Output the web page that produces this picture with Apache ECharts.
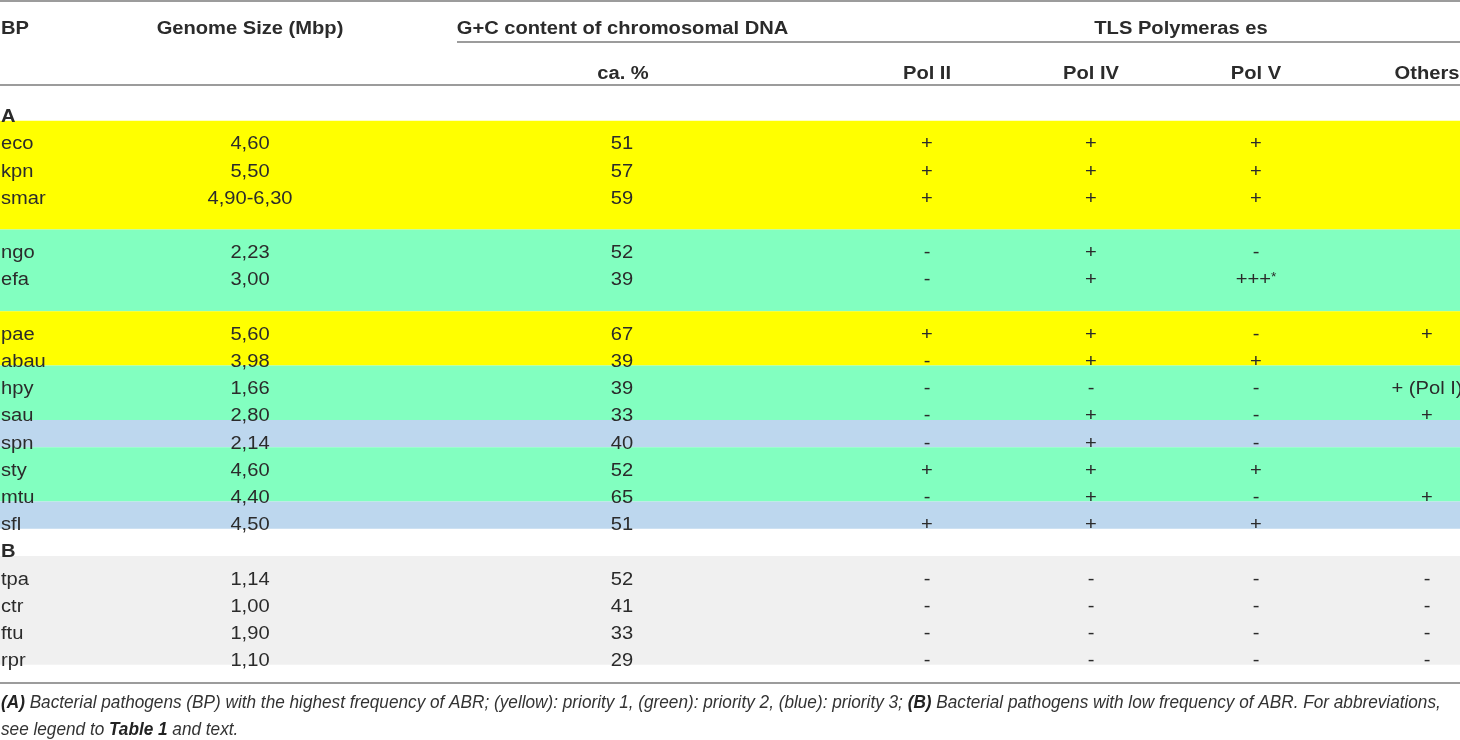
<!DOCTYPE html>
<html>
<head>
<meta charset="utf-8">
<title>TLS polymerases in bacterial pathogens</title>
<script src="https://cdn.jsdelivr.net/npm/echarts@6/dist/echarts.min.js"></script>
<style>
  html, body { margin: 0; padding: 0; background: #fff; }
  #main { width: 1460px; height: 740px; }
</style>
</head>
<body>
<div id="main"></div>
<script>
// ---------- data ----------
// (A) highest ABR frequency, '' = empty spacer row
const bpA      = ['eco', 'kpn', 'smar', '', 'ngo', 'efa', '', 'pae', 'abau', 'hpy', 'sau', 'spn', 'sty', 'mtu', 'sfl']
const genomeA  = ['4,60', '5,50', '4,90-6,30', '', '2,23', '3,00', '', '5,60', '3,98', '1,66', '2,80', '2,14', '4,60', '4,40', '4,50']
const gcA      = ['51', '57', '59', '', '52', '39', '', '67', '39', '39', '33', '40', '52', '65', '51']
const pol2A    = ['+', '+', '+', '', '-', '-', '', '+', '-', '-', '-', '-', '+', '-', '+']
const pol4A    = ['+', '+', '+', '', '+', '+', '', '+', '+', '-', '+', '+', '+', '+', '+']
const pol5A    = ['+', '+', '+', '', '-', '+++*', '', '-', '+', '-', '-', '-', '+', '-', '+']
const othersA  = ['', '', '', '', '', '', '', '+', '', '+ (Pol I)', '+', '', '', '+', '']
// 1 = yellow, 2 = green, 3 = blue
const priorityA = [1, 1, 1, 1, 2, 2, 2, 1, 1, 2, 2, 3, 2, 2, 3]

// (B) low ABR frequency
const bpB      = ['tpa', 'ctr', 'ftu', 'rpr']
const genomeB  = ['1,14', '1,00', '1,90', '1,10']
const gcB      = ['52', '41', '33', '29']
const pol2B    = ['-', '-', '-', '-']
const pol4B    = ['-', '-', '-', '-']
const pol5B    = ['-', '-', '-', '-']
const othersB  = ['-', '-', '-', '-']

const headTop = ['BP', 'Genome Size (Mbp)', 'G+C content of chromosomal DNA', 'TLS Polymeras es']
const headSub = ['ca. %', 'Pol II', 'Pol IV', 'Pol V', 'Others']
const caption1 = '{b|(A)} Bacterial pathogens (BP) with the highest frequency of ABR; (yellow): priority 1, (green): priority 2, (blue): priority 3; {b|(B)} Bacterial pathogens with low frequency of ABR. For abbreviations,'
const caption2 = 'see legend to {b|Table 1} and text.'

// ---------- layout ----------
const W = 1460
const ROW0 = 142.5, ROW_H = 27.2          // first data row centre and row pitch (px)
const colX = [1, 250, 622, 927, 1091, 1256, 1427]
const headTopX = [1, 250, 622.5, 1181]
const bandColor = { 0: '#f0f0f0', 1: '#ffff00', 2: '#82ffc0', 3: '#bdd7ee' }
const FONT = '"Liberation Sans", Arial, Helvetica, sans-serif'
const SX = 1.15                            // the source text is a bit stretched
const CAP_SX = 0.955                       // ...and the caption a bit narrow
const TXT = '#2b2b2b'
const TEXT_DY = 2                          // glyphs sit a little low in the source

const rowPx = px => (px - ROW0) / ROW_H    // header/rule rows given in px -> row units

// cells
const cells = []
function cell(x, row, text, opt) {
  cells.push(Object.assign({ x: x, row: row, text: text, align: 'center', bold: false }, opt || {}))
}

headTop.forEach((t, i) => cell(headTopX[i], rowPx(27), t, { bold: true, align: i === 0 ? 'left' : 'center' }))
headSub.forEach((t, i) => cell(colX[i + 2] + (i === 0 ? 1 : 0), rowPx(72), t, { bold: true }))
cell(colX[0], -1, 'A', { bold: true, align: 'left' })
cell(colX[0], 15, 'B', { bold: true, align: 'left' })

const colsA = [bpA, genomeA, gcA, pol2A, pol4A, pol5A, othersA]
const colsB = [bpB, genomeB, gcB, pol2B, pol4B, pol5B, othersB]
bpA.forEach((_, r) => colsA.forEach((col, c) => {
  if (col[r]) cell(colX[c], r, col[r], { align: c === 0 ? 'left' : 'center' })
}))
bpB.forEach((_, r) => colsB.forEach((col, c) => {
  cell(colX[c], 16 + r, col[r], { align: c === 0 ? 'left' : 'center' })
}))
cell(1, rowPx(703), caption1, { align: 'left', caption: true })
cell(1, rowPx(730), caption2, { align: 'left', caption: true })

// colour bands: group runs of the same priority
const bands = []
priorityA.forEach((p, r) => {
  const last = bands[bands.length - 1]
  if (last && last[2] === p && last[1] === r - 1) last[1] = r
  else bands.push([r, r, p])
})
bands.push([16, 19, 0])

// horizontal rules [x0, x1, row]
const rules = [[0, W, rowPx(1)], [457, W, rowPx(42)], [0, W, rowPx(85)], [0, W, rowPx(683)]]

function textStyle(c) {
  const base = { fontFamily: FONT, fontSize: 17.5, fill: TXT }
  if (c.caption) {
    return {
      text: c.text, align: 'left', verticalAlign: 'middle',
      fontFamily: FONT, fontSize: 18, fontStyle: 'italic', fill: '#333',
      rich: { b: { fontFamily: FONT, fontSize: 18, fontStyle: 'italic', fontWeight: 'bold', fill: '#222' } }
    }
  }
  let text = c.text
  const rich = {}
  if (text.endsWith('*')) {
    text = text.slice(0, -1) + '{s|*}'
    rich.s = { fontFamily: FONT, fontSize: 12, fill: TXT, verticalAlign: 'top', lineHeight: 18 }
  }
  return Object.assign(base, {
    text: text, align: c.align, verticalAlign: 'middle',
    fontWeight: c.bold ? 'bold' : 'normal', rich: rich
  })
}

const chart = echarts.init(document.getElementById('main'))
chart.setOption({
  animation: false,
  grid: { left: 0, right: 0, top: 0, bottom: 0 },
  xAxis: { type: 'value', min: 0, max: W, show: false },
  yAxis: { type: 'value', inverse: true, min: -ROW0 / ROW_H, max: (740 - ROW0) / ROW_H, show: false },
  series: [
    {
      // priority bands
      type: 'custom', silent: true, clip: false, z: 1,
      data: bands,
      renderItem: (params, api) => {
        const p0 = api.coord([0, api.value(0) - 0.8])
        const p1 = api.coord([W, api.value(1) + 0.2])
        return {
          type: 'rect',
          shape: { x: p0[0], y: p0[1], width: p1[0] - p0[0], height: p1[1] - p0[1] },
          style: { fill: bandColor[api.value(2)] }
        }
      }
    },
    {
      // table rules
      type: 'custom', silent: true, clip: false, z: 2,
      data: rules,
      renderItem: (params, api) => {
        const a = api.coord([api.value(0), api.value(2)])
        const b = api.coord([api.value(1), api.value(2)])
        return {
          type: 'line',
          shape: { x1: a[0], y1: a[1], x2: b[0], y2: b[1] },
          style: { stroke: '#9c9c9c', lineWidth: 2 }
        }
      }
    },
    {
      // all text cells
      type: 'custom', silent: true, clip: false, z: 3,
      data: cells.map(c => [c.x, c.row]),
      renderItem: (params, api) => {
        const c = cells[params.dataIndex]
        const p = api.coord([api.value(0), api.value(1)])
        return {
          type: 'text', x: p[0], y: p[1] + (c.caption ? 0 : TEXT_DY),
          scaleX: c.caption ? CAP_SX : SX,
          style: textStyle(c)
        }
      }
    }
  ]
})
</script>
</body>
</html>
